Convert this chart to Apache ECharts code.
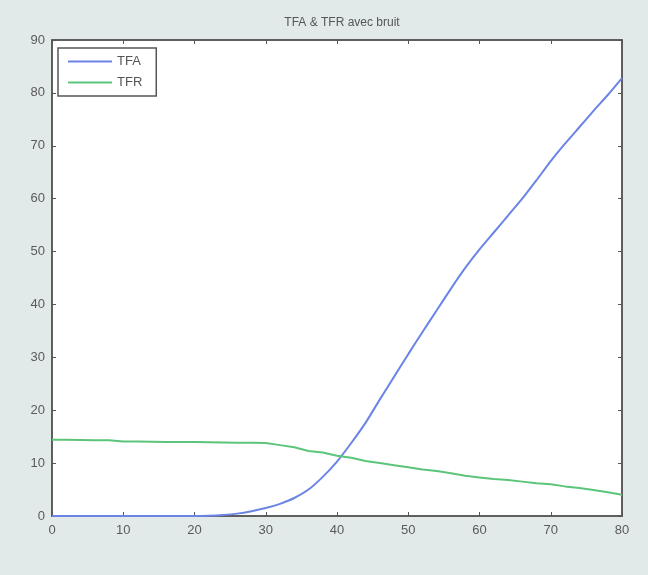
<!DOCTYPE html>
<html>
<head>
<meta charset="utf-8">
<script src="https://cdn.jsdelivr.net/npm/echarts@6/dist/echarts.min.js"></script>
<style>
html,body{margin:0;padding:0;background:#e2eae9;}
#c{width:648px;height:575px;}
</style>
</head>
<body>
<div id="c"></div>
<script>
const titleText = 'TFA & TFR avec bruit';
const seriesNames = ['TFA', 'TFR'];
const xValues = [0,2,4,6,8,10,12,14,16,18,20,22,24,26,28,30,32,34,36,38,40,42,44,46,48,50,52,54,56,58,60,62,64,66,68,70,72,74,76,78,80];
const tfa = [0,0,0,0,0,0,0,0,0,0,0,0.05,0.2,0.45,0.9,1.5,2.3,3.4,5.0,7.4,10.3,13.8,17.6,22.0,26.3,30.6,34.8,38.9,43.0,46.9,50.4,53.6,56.8,60.0,63.5,67.1,70.4,73.5,76.6,79.6,82.8];
const tfr = [14.4,14.4,14.35,14.3,14.3,14.1,14.1,14.05,14.0,14.0,14.0,13.95,13.9,13.85,13.85,13.8,13.4,13.0,12.3,12.0,11.4,11.0,10.4,10.0,9.6,9.2,8.8,8.5,8.1,7.6,7.3,7.0,6.8,6.5,6.2,6.0,5.6,5.3,4.9,4.5,4.0];

const chart = echarts.init(document.getElementById('c'));
const font = 'Liberation Sans, Arial, sans-serif';
const axisCommon = {
  type: 'value',
  interval: 10,
  axisLine: {show: true, onZero: false, lineStyle: {color: '#555', width: 1.5}},
  axisTick: {show: true, inside: true, length: 4, lineStyle: {color: '#555'}},
  splitLine: {show: false},
  axisLabel: {color: '#5a5a5a', fontSize: 13, fontFamily: font}
};
chart.setOption({
  backgroundColor: '#e2eae9',
  animation: false,
  title: {
    text: titleText, left: 337, top: 12, textAlign: 'center',
    textStyle: {fontSize: 12, fontWeight: 'normal', color: '#555', fontFamily: font}
  },
  legend: {
    data: seriesNames.map(n => ({name: n, icon: 'rect'})),
    orient: 'vertical', left: 58, top: 48,
    itemWidth: 44, itemHeight: 2, itemGap: 8,
    padding: [7, 14, 7, 10],
    borderColor: '#555', borderWidth: 1.5, backgroundColor: '#fff',
    textStyle: {fontSize: 13, color: '#555', fontFamily: font}
  },
  grid: {left: 52, right: 26, top: 40, bottom: 59, show: true, backgroundColor: '#fff', borderColor: '#555', borderWidth: 1.5},
  xAxis: [
    Object.assign({}, axisCommon, {min: 0, max: 80, position: 'bottom', axisLabel: Object.assign({}, axisCommon.axisLabel, {margin: 8})}),
    Object.assign({}, axisCommon, {min: 0, max: 80, position: 'top', axisLabel: {show: false}})
  ],
  yAxis: [
    Object.assign({}, axisCommon, {min: 0, max: 90, position: 'left', axisLabel: Object.assign({}, axisCommon.axisLabel, {margin: 7})}),
    Object.assign({}, axisCommon, {min: 0, max: 90, position: 'right', axisLabel: {show: false}})
  ],
  series: [
    {name: seriesNames[0], type: 'line', symbol: 'none', smooth: 0.2, data: xValues.map((x, i) => [x, tfa[i]]),
      lineStyle: {color: '#6b84e6', width: 2}, itemStyle: {color: '#6b84e6'}},
    {name: seriesNames[1], type: 'line', symbol: 'none', data: xValues.map((x, i) => [x, tfr[i]]),
      lineStyle: {color: '#5cc57a', width: 2}, itemStyle: {color: '#5cc57a'}}
  ]
});
</script>
</body>
</html>
